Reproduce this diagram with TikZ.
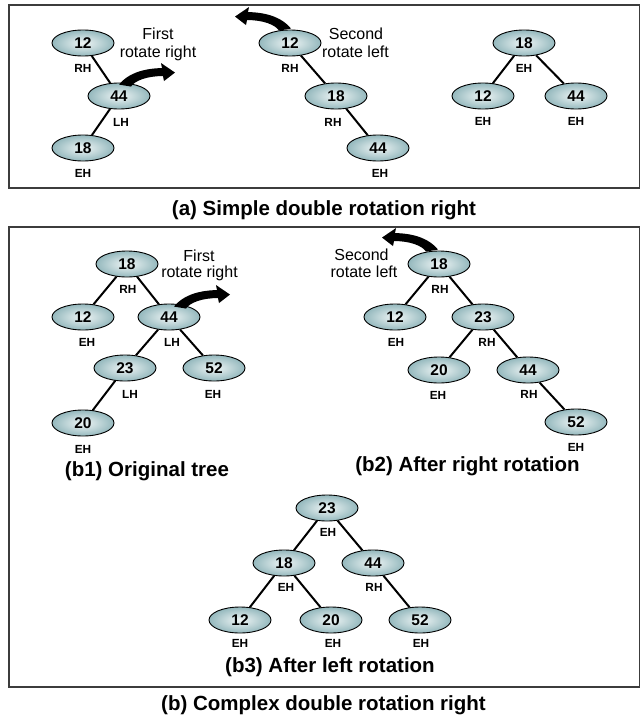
\documentclass[tikz,border=0pt]{standalone}
\usepackage{fontspec}
\setmainfont{Liberation Sans}
\usetikzlibrary{shapes.geometric}

\definecolor{nodeout}{RGB}{148,184,189}
\definecolor{nodein}{RGB}{240,246,246}
\definecolor{framecol}{RGB}{60,60,60}

\tikzset{
  avl/.style={ellipse, draw=black, line width=0.9pt, minimum width=62pt, minimum height=26pt,
    inner sep=0pt, inner color=nodein, outer color=nodeout,
    font=\fontsize{15.5}{18}\selectfont\bfseries},
  bal/.style={font=\fontsize{11.8}{13}\selectfont\bfseries, inner sep=0pt},
  link/.style={line width=2pt, draw=black},
  capt/.style={font=\fontsize{20.5}{24}\selectfont\bfseries, anchor=base, inner sep=0pt},
  note/.style={font=\fontsize{16}{19}\selectfont, anchor=base, inner sep=0pt},
  frame/.style={draw=framecol, line width=1.3pt},
  swoosh/.pic={\fill[black] (-6,1) .. controls (2,-9) and (16,-15) .. (37,-15.5) -- (36,-20.5)
      -- (50,-11) -- (39,-2.5) -- (38,-7.5) .. controls (22,-7.5) and (10,-3) .. (6,3) -- cycle;}
}

\begin{document}
\begin{tikzpicture}[x=1pt, y=-1pt]
\useasboundingbox (0,0) rectangle (641,720);

% frames
\draw[frame] (9,5) rectangle (639.5,188);
\draw[frame] (9,227) rectangle (639.5,687);

% ---------- (a) tree 1
\node[avl] (a1n12) at (83,43) {12};
\node[avl] (a1n44) at (119,96) {44};
\node[avl] (a1n18) at (83,148) {18};
\node[bal] (a1l12) at (83,68) {RH};
\node[bal] (a1l44) at (121,122) {LH};
\node[bal] (a1l18) at (83,173) {EH};
\draw[link] (a1n12) -- (a1n44);
\draw[link] (a1n44) -- (a1n18);
\pic at ([xshift=6pt,yshift=-1pt]a1n44.north) {swoosh};
\node[note] (a1t1) at (158,39) {First};
\node[note] (a1t2) at (158,57.5) {rotate right};

% ---------- (a) tree 2
\node[avl] (a2n12) at (290,43) {12};
\node[avl] (a2n18) at (336,96) {18};
\node[avl] (a2n44) at (378,148) {44};
\node[bal] (a2l12) at (290,68) {RH};
\node[bal] (a2l18) at (333,122) {RH};
\node[bal] (a2l44) at (380,173) {EH};
\draw[link] (a2n12) -- (a2n18);
\draw[link] (a2n18) -- (a2n44);
\pic[xscale=-1] at ([xshift=-5pt,yshift=2pt]a2n12.north) {swoosh};
\node[note] (a2t1) at (356,39) {Second};
\node[note] (a2t2) at (355.5,57.5) {rotate left};

% ---------- (a) tree 3
\node[avl] (a3n18) at (524,43) {18};
\node[avl] (a3n12) at (483,96) {12};
\node[avl] (a3n44) at (576,96) {44};
\node[bal] (a3l18) at (524,68) {EH};
\node[bal] (a3l12) at (483,121) {EH};
\node[bal] (a3l44) at (576,121) {EH};
\draw[link] (a3n18) -- (a3n12);
\draw[link] (a3n18) -- (a3n44);

\node[capt] (capa) at (324,215) {(a) Simple double rotation right};

% ---------- (b1)
\node[avl] (b1n18) at (127,264) {18};
\node[avl] (b1n12) at (83,317) {12};
\node[avl] (b1n44) at (169,317) {44};
\node[avl] (b1n23) at (125,368) {23};
\node[avl] (b1n52) at (214,368) {52};
\node[avl] (b1n20) at (83,423) {20};
\node[bal] (b1l18) at (128,289) {RH};
\node[bal] (b1l12) at (87,342) {EH};
\node[bal] (b1l44) at (172,342) {LH};
\node[bal] (b1l23) at (130,394) {LH};
\node[bal] (b1l52) at (213,394) {EH};
\node[bal] (b1l20) at (83,449) {EH};
\draw[link] (b1n18) -- (b1n12);
\draw[link] (b1n18) -- (b1n44);
\draw[link] (b1n44) -- (b1n23);
\draw[link] (b1n44) -- (b1n52);
\draw[link] (b1n23) -- (b1n20);
\pic at ([xshift=11pt,yshift=-2pt]b1n44.north) {swoosh};
\node[note] (b1t1) at (199,261) {First};
\node[note] (b1t2) at (199.5,277) {rotate right};
\node[capt] (capb1) at (147,476) {(b1) Original tree};

% ---------- (b2)
\node[avl] (b2n18) at (439,264) {18};
\node[avl] (b2n12) at (395,317) {12};
\node[avl] (b2n23) at (483,317) {23};
\node[avl] (b2n20) at (439,370) {20};
\node[avl] (b2n44) at (528,370) {44};
\node[avl] (b2n52) at (576,422) {52};
\node[bal] (b2l18) at (440,289) {RH};
\node[bal] (b2l12) at (396,342) {EH};
\node[bal] (b2l23) at (487,342) {RH};
\node[bal] (b2l20) at (438,395) {EH};
\node[bal] (b2l44) at (529,394) {RH};
\node[bal] (b2l52) at (576,447) {EH};
\draw[link] (b2n18) -- (b2n12);
\draw[link] (b2n18) -- (b2n23);
\draw[link] (b2n23) -- (b2n20);
\draw[link] (b2n23) -- (b2n44);
\draw[link] (b2n44) -- (b2n52);
\pic[xscale=-1] at ([xshift=-7pt,yshift=2pt]b2n18.north) {swoosh};
\node[note] (b2t1) at (361.5,260) {Second};
\node[note] (b2t2) at (364,277) {rotate left};
\node[capt] (capb2) at (467.5,471) {(b2) After right rotation};

% ---------- (b3)
\node[avl] (b3n23) at (327,508) {23};
\node[avl] (b3n18) at (284,563) {18};
\node[avl] (b3n44) at (373,563) {44};
\node[avl] (b3n12) at (240,620) {12};
\node[avl] (b3n20) at (331,620) {20};
\node[avl] (b3n52) at (420,620) {52};
\node[bal] (b3l23) at (328,532) {EH};
\node[bal] (b3l18) at (286,587) {EH};
\node[bal] (b3l44) at (374,587) {RH};
\node[bal] (b3l12) at (240,643) {EH};
\node[bal] (b3l20) at (333,643) {EH};
\node[bal] (b3l52) at (421,643) {EH};
\draw[link] (b3n23) -- (b3n18);
\draw[link] (b3n23) -- (b3n44);
\draw[link] (b3n18) -- (b3n12);
\draw[link] (b3n18) -- (b3n20);
\draw[link] (b3n44) -- (b3n52);
\node[capt] (capb3) at (330,672) {(b3) After left rotation};

\node[capt] (capb) at (323.5,710) {(b) Complex double rotation right};
\end{tikzpicture}
\end{document}
